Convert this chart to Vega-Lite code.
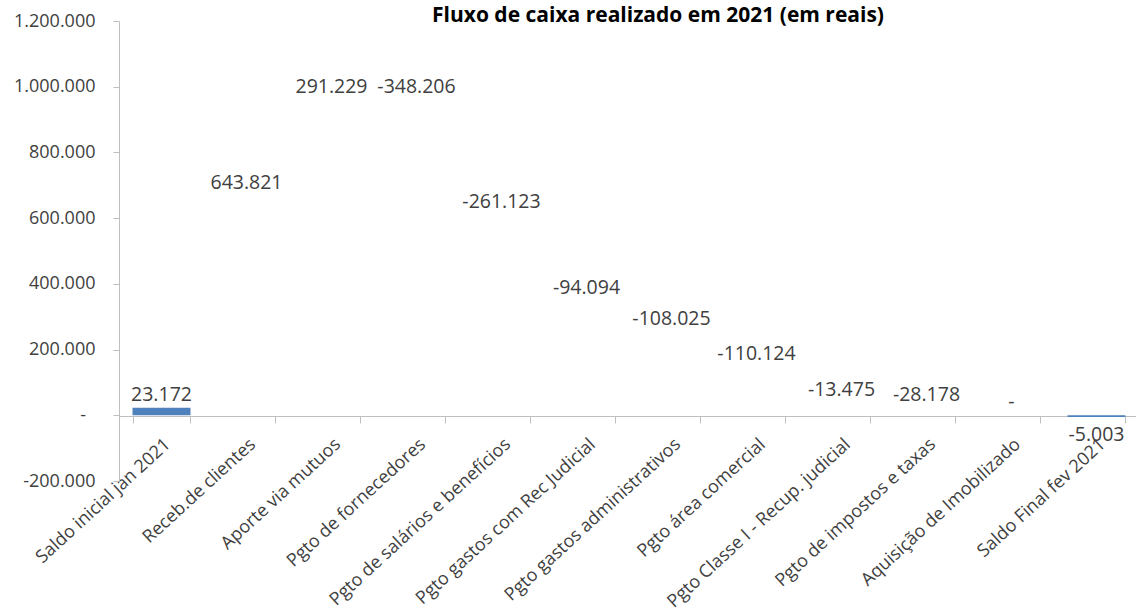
{
  "$schema": "https://vega.github.io/schema/vega-lite/v6.json",
  "autosize": {"type": "none"},
  "padding": {"left": 119, "top": 21, "right": 0, "bottom": 129},
  "width": 1020,
  "height": 460,
  "background": "white",
  "config": {"view": {"stroke": null}, "font": "Open Sans"},
  "title": {
    "text": "Fluxo de caixa realizado em 2021 (em reais)",
    "anchor": "middle",
    "frame": "group",
    "font": "Open Sans",
    "fontSize": 21,
    "fontWeight": "bold",
    "color": "#000000",
    "baseline": "alphabetic",
    "offset": 0,
    "dy": 31,
    "dx": 29
  },
  "data": {
    "values": [
      {"cat": "Saldo inicial jan 2021", "kind": "total", "start": 0, "end": 23172, "top": 23172, "label": "23.172"},
      {"cat": "Receb.de clientes", "kind": "flow", "start": 23172, "end": 666993, "top": 666993, "label": "643.821"},
      {"cat": "Aporte via mutuos", "kind": "flow", "start": 666993, "end": 958222, "top": 958222, "label": "291.229"},
      {"cat": "Pgto de fornecedores", "kind": "flow", "start": 958222, "end": 610016, "top": 958222, "label": "-348.206"},
      {"cat": "Pgto de salários e benefícios", "kind": "flow", "start": 610016, "end": 348893, "top": 610016, "label": "-261.123"},
      {"cat": "Pgto gastos com Rec Judicial", "kind": "flow", "start": 348893, "end": 254799, "top": 348893, "label": "-94.094"},
      {"cat": "Pgto gastos administrativos", "kind": "flow", "start": 254799, "end": 146774, "top": 254799, "label": "-108.025"},
      {"cat": "Pgto área comercial", "kind": "flow", "start": 146774, "end": 36650, "top": 146774, "label": "-110.124"},
      {"cat": "Pgto Classe I - Recup. judicial", "kind": "flow", "start": 36650, "end": 23175, "top": 36650, "label": "-13.475"},
      {"cat": "Pgto de impostos e taxas", "kind": "flow", "start": 23175, "end": -5003, "top": 23175, "label": "-28.178"},
      {"cat": "Aquisição de Imobilizado", "kind": "flow", "start": -5003, "end": -5003, "top": 0, "label": "-"},
      {"cat": "Saldo Final fev 2021", "kind": "final", "start": 0, "end": -5003, "top": -5003, "label": "-5.003"}
    ]
  },
  "layer": [
    {
      "mark": {"type": "bar", "color": "#4F81BD"},
      "encoding": {
        "x": {
          "field": "cat",
          "type": "nominal",
          "sort": null,
          "scale": {"paddingInner": 0.318, "paddingOuter": 0.159},
          "axis": {
            "title": null,
            "labelAngle": -42.5,
            "labelAlign": "right",
            "labelBaseline": "top",
            "labelFont": "Open Sans",
            "labelFontSize": 18,
            "labelColor": "#404040",
            "labelPadding": 12,
            "labelLimit": 400,
            "labelOverlap": false,
            "tickBand": "extent",
            "tickSize": 7,
            "tickColor": "#bfbfbf",
            "domainColor": "#bfbfbf",
            "offset": -65,
            "grid": false
          }
        },
        "y": {
          "field": "start",
          "type": "quantitative",
          "title": null,
          "scale": {"domain": [-200000, 1200000], "nice": false, "zero": false},
          "axis": {
            "title": null,
            "values": [-200000, 0, 200000, 400000, 600000, 800000, 1000000, 1200000],
            "labelExpr": "datum.value == 0 ? '-\u00a0\u00a0\u200b' : replace(replace(replace(format(datum.value, ','), ',', '.'), ',', '.'), '\u2212', '-')",
            "labelFont": "Open Sans",
            "labelFontSize": 18,
            "labelColor": "#404040",
            "labelPadding": 18,
            "tickSize": 6,
            "tickColor": "#bfbfbf",
            "domainColor": "#bfbfbf",
            "grid": false
          }
        },
        "y2": {"field": "end"},
        "opacity": {"condition": {"test": "datum.kind != 'flow'", "value": 1}, "value": 0}
      }
    },
    {
      "transform": [{"filter": "datum.kind != 'final'"}],
      "mark": {"type": "text", "font": "Open Sans", "fontSize": 19.5, "color": "#404040", "baseline": "alphabetic", "dy": -7},
      "encoding": {
        "x": {"field": "cat", "type": "nominal", "sort": null, "title": null},
        "y": {"field": "top", "type": "quantitative", "title": null},
        "text": {"field": "label"}
      }
    },
    {
      "transform": [{"filter": "datum.kind == 'final'"}],
      "mark": {"type": "text", "font": "Open Sans", "fontSize": 19.5, "color": "#404040", "baseline": "alphabetic", "dy": 24},
      "encoding": {
        "x": {"field": "cat", "type": "nominal", "sort": null, "title": null},
        "y": {"field": "top", "type": "quantitative", "title": null},
        "text": {"field": "label"}
      }
    }
  ]
}
